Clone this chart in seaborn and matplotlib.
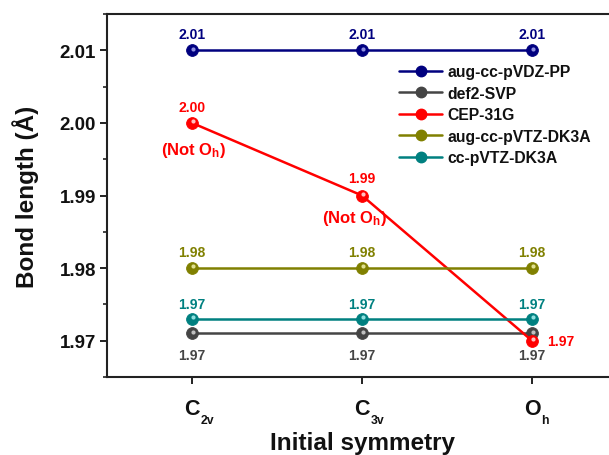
import matplotlib
matplotlib.use("Agg")
import matplotlib.pyplot as plt
import matplotlib.transforms as mtransforms
import seaborn as sns
import pandas as pd
import numpy as np

cat_main = ["C", "C", "O"]
cat_sub = ["2v", "3v", "h"]
series_names = ["aug-cc-pVDZ-PP", "def2-SVP", "CEP-31G", "aug-cc-pVTZ-DK3A", "cc-pVTZ-DK3A"]
aug_cc_pVDZ_PP = [2.010, 2.010, 2.010]
def2_SVP = [1.971, 1.971, 1.971]
CEP_31G = [2.000, 1.990, 1.970]
aug_cc_pVTZ_DK3A = [1.980, 1.980, 1.980]
cc_pVTZ_DK3A = [1.973, 1.973, 1.973]
labels_vdz = ["2.01", "2.01", "2.01"]
labels_svp = ["1.97", "1.97", "1.97"]
labels_cep = ["2.00", "1.99", "1.97"]
labels_vtz = ["1.98", "1.98", "1.98"]
labels_cc = ["1.97", "1.97", "1.97"]
colors = ["#00007F", "#454545", "#FF0000", "#808000", "#008080"]
highlights = ["#9090E0", "#C0C0C0", "#FFC0C0", "#E0E090", "#90E0E0"]

all_vals = [aug_cc_pVDZ_PP, def2_SVP, CEP_31G, aug_cc_pVTZ_DK3A, cc_pVTZ_DK3A]
rows = []
for name, vals in zip(series_names, all_vals):
    for i, v in enumerate(vals):
        rows.append({"x": i, "y": v, "series": name})
df = pd.DataFrame(rows)

sns.set_theme(style="ticks")
plt.rcParams['font.family'] = ['Liberation Sans', 'DejaVu Sans']
plt.rcParams['font.weight'] = 'bold'
plt.rcParams['mathtext.fontset'] = 'custom'
plt.rcParams['mathtext.rm'] = 'Liberation Sans:bold'
plt.rcParams['mathtext.bf'] = 'Liberation Sans:bold'
plt.rcParams['mathtext.it'] = 'Liberation Sans:bold'
plt.rcParams['text.color'] = '#111111'
plt.rcParams['axes.labelcolor'] = '#111111'
plt.rcParams['xtick.color'] = '#111111'
plt.rcParams['ytick.color'] = '#111111'

fig = plt.figure(figsize=(6.09, 4.56), dpi=100)
ax = fig.add_axes([107/609, (456-378)/456, 510/609, (378-15)/456])

sns.lineplot(data=df, x="x", y="y", hue="series", hue_order=series_names,
             palette=colors, marker="o", markersize=8.5, linewidth=1.8,
             markeredgewidth=0.6, ax=ax, legend=False)
for line, c in zip(ax.get_lines(), colors):
    line.set_markeredgecolor(c)

# sphere highlights
hl_tr = mtransforms.offset_copy(ax.transData, fig=fig, x=1.0, y=1.2, units='points')
for vals, hc in zip(all_vals, highlights):
    ax.plot(range(3), vals, linestyle='none', marker='o', markersize=3.0,
            color=hc, markeredgewidth=0, transform=hl_tr, zorder=5)

fs = 10
def lab(x, y, s, c, dx, dy, ha='center'):
    ax.annotate(s, (x, y), xytext=(dx, dy), textcoords='offset points',
                ha=ha, va='center', color=c, fontsize=fs, fontweight='bold')

for i in range(3):
    lab(i, aug_cc_pVDZ_PP[i], labels_vdz[i], colors[0], 0, 11.5)
    lab(i, def2_SVP[i], labels_svp[i], colors[1], 0, -15.5)
    lab(i, aug_cc_pVTZ_DK3A[i], labels_vtz[i], colors[3], 0, 11.5)
    lab(i, cc_pVTZ_DK3A[i], labels_cc[i], colors[4], 0, 11)
lab(0, CEP_31G[0], labels_cep[0], colors[2], 0, 11.5)
lab(1, CEP_31G[1], labels_cep[1], colors[2], 0, 12.5)
lab(2, CEP_31G[2], labels_cep[2], colors[2], 11, 0, ha='left')
ax.annotate("(Not O$_{\\mathbf{h}}$)", (0, CEP_31G[0]), xytext=(1, -19), textcoords='offset points',
            ha='center', va='center', color=colors[2], fontsize=12, fontweight='bold')
ax.annotate("(Not O$_{\\mathbf{h}}$)", (1, CEP_31G[1]), xytext=(-5, -16), textcoords='offset points',
            ha='center', va='center', color=colors[2], fontsize=12, fontweight='bold')

ax.set_xlim(-0.5, 2.5)
ax.set_ylim(1.965, 2.015)
ax.set_xticks([0, 1, 2])
ax.set_xticklabels([])
# category labels with subscripts
xtr = ax.get_xaxis_transform()
for i, (m, s) in enumerate(zip(cat_main, cat_sub)):
    t = ax.annotate(m, (i, 0), xycoords=xtr, xytext=(0, -15), textcoords='offset points',
                    ha='center', va='top', fontsize=15.5, fontweight='bold', color='#111111',
                    annotation_clip=False)
    ax.annotate(s, xy=(1, 0), xycoords=t, xytext=(0.5, -5.0), textcoords='offset points',
                ha='left', va='bottom', fontsize=8.8, fontweight='bold', color='#111111',
                annotation_clip=False)
ax.set_yticks([1.97, 1.98, 1.99, 2.00, 2.01])
ax.set_yticklabels(["1.97", "1.98", "1.99", "2.00", "2.01"], fontsize=13.5, fontweight='bold')
ax.set_yticks(np.arange(1.965, 2.0151, 0.005), minor=True)
ax.tick_params(axis='y', which='major', length=5, width=1.3, direction='out', pad=3)
ax.tick_params(axis='y', which='minor', length=3, width=1.1, direction='out')
ax.tick_params(axis='x', which='major', length=5, width=1.3, direction='out')
ax.set_xlabel("Initial symmetry", fontsize=17.5, fontweight='bold')
ax.xaxis.set_label_coords(0.5, -0.148)
ax.set_ylabel("Bond length (Å)", fontsize=17.5, fontweight='bold', labelpad=15)
for sp in ax.spines.values():
    sp.set_linewidth(1.5)
    sp.set_color('#222222')

handles = [plt.Line2D([], [], color=c, marker='o', markersize=7.5, linewidth=1.8,
                      markeredgecolor=c) for c in colors]
leg = ax.legend(handles, series_names, loc='upper left', bbox_to_anchor=(0.573, 0.862),
                frameon=False, fontsize=11.3, handlelength=2.75, handletextpad=0.32,
                labelspacing=0.42, borderaxespad=0, borderpad=0)
for t in leg.get_texts():
    t.set_fontweight('bold')

fig.savefig("out.png", dpi=100)
